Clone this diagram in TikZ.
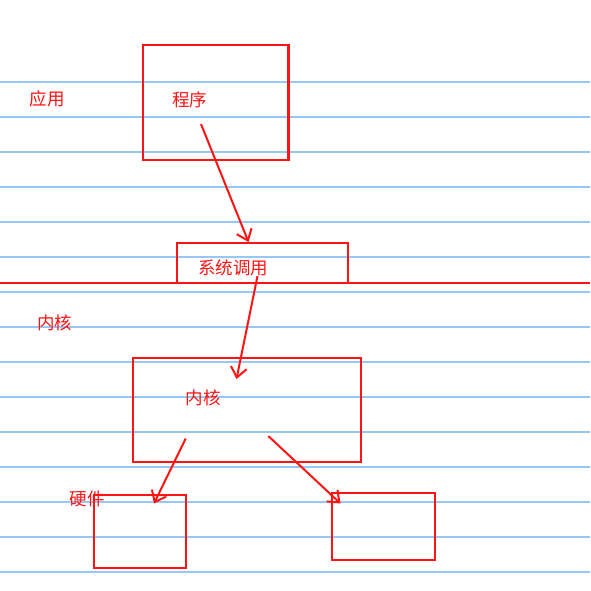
\documentclass[tikz,border=0pt]{standalone}
\usepackage{fontspec}
\newfontfamily\cjk{Noto Sans CJK SC}
\usetikzlibrary{arrows.meta}
\definecolor{ruleblue}{RGB}{150,200,245}
\definecolor{inkred}{RGB}{255,20,20}
\begin{document}
\begin{tikzpicture}[x=1pt,y=-1pt,
  rule/.style={draw=ruleblue,line width=1.4pt},
  box/.style={draw=inkred,line width=2.2pt,rectangle,inner sep=0pt},
  lbl/.style={text=inkred,inner sep=0pt,font=\cjk\fontsize{17.5}{20}\selectfont},
  link/.style={draw=inkred,line width=2pt,-{Straight Barb[length=10pt,width=16pt,line width=2pt]}}]
\useasboundingbox[fill=white] (0,0) rectangle (590,591);
% ruled paper
\foreach \k in {0,...,14}{
  \draw[rule] (0,82+35*\k) -- (590,82+35*\k);
}
% user / kernel boundary
\draw[draw=inkred,line width=2.2pt] (0,283) -- (590,283);
% boxes
\node[box,minimum width=145.5pt,minimum height=115pt] (prog) at (215.8,102.5) {};
\node[box,minimum width=171pt,minimum height=40.6pt] (sys) at (262.8,263) {};
\node[box,minimum width=227.7pt,minimum height=103.4pt] (kern) at (247.2,410) {};
\node[box,minimum width=91.7pt,minimum height=72.7pt] (hwA) at (139.9,531.4) {};
\node[box,minimum width=102.4pt,minimum height=67.3pt] (hwB) at (383.5,526.4) {};
% labels
\node[lbl] (app) at (47,99) {应用};
\node[lbl] (progtxt) at (189.5,100) {程序};
\node[lbl] (systxt) at (233.3,268) {系统调用};
\node[lbl] (kernside) at (54.5,323) {内核};
\node[lbl] (kerntxt) at (203,398) {内核};
\node[lbl] (hwtxt) at (87.4,499) {硬件};
% connector end points
\coordinate (p1) at (201,124);
\coordinate (q1) at (248.5,242);
\coordinate (p2) at (257.5,276);
\coordinate (q2) at (236.5,379);
\coordinate (p3) at (185.7,438.5);
\coordinate (q3) at (154,503.5);
\coordinate (p4) at (268.3,436);
\coordinate (q4) at (340.5,503.5);
% calls
\draw[link] (p1) -- (q1);
\draw[link] (p2) -- (q2);
\draw[link] (p3) -- (q3);
\draw[link] (p4) -- (q4);
\end{tikzpicture}
\end{document}
